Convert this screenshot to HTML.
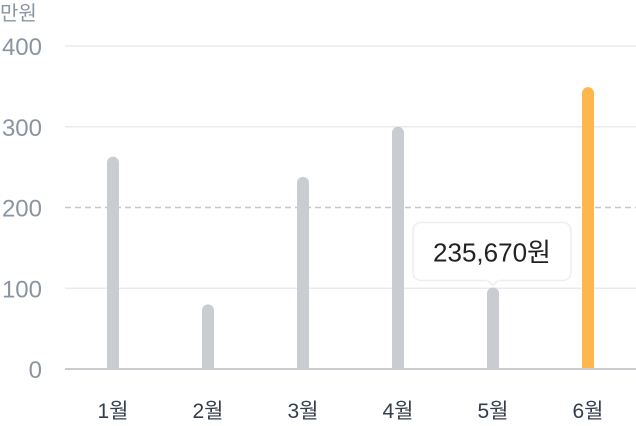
<!DOCTYPE html>
<html><head><meta charset="utf-8"><style>
body{margin:0;background:#fff;}
svg text{font-family:"Liberation Sans","Noto Sans CJK KR",sans-serif;}
</style></head><body>
<svg id="chart" width="636" height="421" xmlns="http://www.w3.org/2000/svg">
<text x="0" y="20" font-size="20" fill="#8b95a1">만원</text>
<g id="grid"></g><g id="bars"></g><g id="xl"></g>
</svg>
<script>
const categories=["1월","2월","3월","4월","5월","6월"];
const values=[263,80,238,300,101,349];
const yTicks=[0,100,200,300,400];
const tooltipLabel="235,670원";
const highlightIndex=5, tooltipIndex=4;
const NS="http://www.w3.org/2000/svg";
const y0=369,pxPer=0.8075;
const yS=v=>y0-v*pxPer;
const xS=i=>113+i*95;
const svg=document.getElementById('chart');
function mk(t,a,p){const e=document.createElementNS(NS,t);for(const k in a)e.setAttribute(k,a[k]);p.appendChild(e);return e;}
const g=document.getElementById('grid');
const b=document.getElementById('bars'),xl=document.getElementById('xl');
yTicks.forEach(v=>{
  const y=yS(v);
  const l=mk('line',{x1:65,x2:636,y1:y,y2:y,stroke:'#e9ebee','stroke-width':1.5},g);
  if(v===200){l.setAttribute('stroke','#c4c8cc');l.setAttribute('stroke-dasharray','6,4');}
  
  
});
values.forEach((v,i)=>{
  const x=xS(i),top=yS(v);
  const r=mk('rect',{x:x-6,y:top,width:12,height:y0-top+6,rx:6,fill:i===highlightIndex?'#ffb74d':'#c9cdd1'},b);
  
  
  const t=mk('text',{x:x,y:418,'font-size':21,fill:'#333d4b','text-anchor':'middle'},xl);
  t.textContent=categories[i];
  
  
});
mk('rect',{x:65,y:y0+1,width:571,height:8,fill:'#fff'},b);
mk('line',{x1:65,x2:636,y1:y0,y2:y0,stroke:'#c9cdd2','stroke-width':2},b);
yTicks.forEach(v=>{
  const t=mk('text',{x:42,y:yS(v)+9,'font-size':24,fill:'#8b95a1','text-anchor':'end'},svg);
  t.textContent=v;
  
  
});
const tx=xS(tooltipIndex),ty=yS(values[tooltipIndex]);
const tg=mk('g',{},svg);


mk('rect',{x:tx-80,y:ty-65,width:158,height:58,rx:8,fill:'#fff',stroke:'#eceef0','stroke-width':1.5},tg);
mk('path',{d:`M${tx-6} ${ty-8} L${tx} ${ty-2} L${tx+6} ${ty-8}`,fill:'#fff',stroke:'#eceef0','stroke-width':1.5},tg);
mk('rect',{x:tx-7,y:ty-10,width:14,height:3,fill:'#fff'},tg);
const tt=mk('text',{x:tx-1,y:ty-26,'font-size':26,fill:'#222','text-anchor':'middle'},tg);
tt.textContent=tooltipLabel;
</script>
</body></html>
